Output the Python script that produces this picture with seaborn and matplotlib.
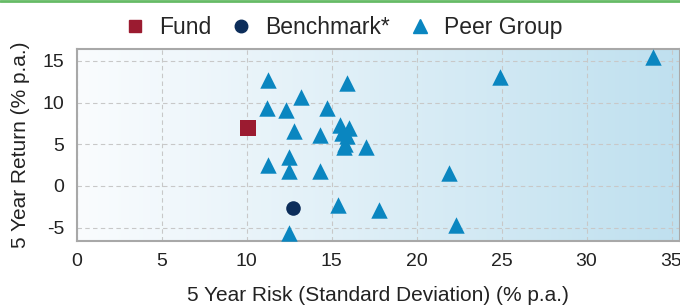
import numpy as np
import pandas as pd
import matplotlib
matplotlib.use("Agg")
import matplotlib.pyplot as plt
from matplotlib.colors import LinearSegmentedColormap
import seaborn as sns

# ---- data ----
fund_risk = [10.1]
fund_return = [7.0]
bench_risk = [12.7]
bench_return = [-2.6]
peer_risk = [11.25, 15.9, 13.2, 11.2, 12.3, 14.7, 12.8, 14.3,
             15.5, 16.0, 15.6, 15.9, 15.8, 15.7, 17.0,
             11.25, 12.5, 12.5, 14.3, 15.4, 17.8, 12.5,
             21.9, 22.3, 24.9, 33.9]
peer_return = [12.7, 12.3, 10.7, 9.3, 9.1, 9.3, 6.6, 6.1,
               7.3, 7.0, 6.4, 6.0, 5.0, 4.7, 4.7,
               2.5, 3.5, 1.8, 1.8, -2.3, -2.9, -5.7,
               1.6, -4.7, 13.0, 15.4]
series_names = ["Fund", "Benchmark*", "Peer Group"]
x_ticks = [0, 5, 10, 15, 20, 25, 30, 35]
y_ticks = [-5, 0, 5, 10, 15]

df = pd.DataFrame({
    "risk": fund_risk + bench_risk + peer_risk,
    "ret": fund_return + bench_return + peer_return,
    "Type": [series_names[0]] * len(fund_risk)
            + [series_names[1]] * len(bench_risk)
            + [series_names[2]] * len(peer_risk),
})

sns.set_theme(style="white")
plt.rcParams["font.family"] = ["Liberation Sans", "DejaVu Sans"]
plt.rcParams["axes.unicode_minus"] = False

fig = plt.figure(figsize=(6.8, 3.07), dpi=100)
ax = fig.add_axes([0.113, 0.215, 0.887, 0.625])

# gradient background
cmap = LinearSegmentedColormap.from_list("bg", ["#fafcfe", "#bfe0ef"])
grad = np.linspace(0, 1, 256).reshape(1, -1)
ax.imshow(grad, cmap=cmap, extent=[0, 1, 0, 1], transform=ax.transAxes,
          aspect="auto", zorder=0)

palette = {"Fund": "#9b1b30", "Benchmark*": "#0c2d5a", "Peer Group": "#0a86c0"}
markers = {"Fund": "s", "Benchmark*": "o", "Peer Group": "^"}
sizes = {"Fund": 120, "Benchmark*": 110, "Peer Group": 140}

for name in series_names:
    sub = df[df["Type"] == name]
    sns.scatterplot(data=sub, x="risk", y="ret", ax=ax, color=palette[name],
                    marker=markers[name], s=sizes[name], linewidth=0,
                    label=name, zorder=3, legend=False)

ax.set_xlim(0, 35.5)
ax.set_ylim(-6.6, 16.4)
ax.set_xticks(x_ticks)
ax.set_yticks(y_ticks)
ax.grid(True, linestyle=(0, (4, 3)), color="#c8c8c8", linewidth=0.8, zorder=1)
ax.set_axisbelow(True)
for side in ["left", "bottom", "top", "right"]:
    ax.spines[side].set_color("#a8a8a8")
    ax.spines[side].set_linewidth(1.5)
ax.tick_params(axis="both", labelsize=14, colors="#222222", length=0, pad=9)
ax.set_xlabel("5 Year Risk (Standard Deviation) (% p.a.)", fontsize=15,
              color="#222222", labelpad=11)
ax.set_ylabel("5 Year Return (% p.a.)", fontsize=15, color="#222222", labelpad=9)

handles = [
    plt.Line2D([], [], linestyle="none", marker="s", color=palette["Fund"], markersize=9),
    plt.Line2D([], [], linestyle="none", marker="o", color=palette["Benchmark*"], markersize=9),
    plt.Line2D([], [], linestyle="none", marker="^", color=palette["Peer Group"], markersize=10),
]
fig.legend(handles, series_names, loc="center", bbox_to_anchor=(0.503, 0.91),
           ncol=3, frameon=False, prop={"size": 16.5},
           handletextpad=0.45, columnspacing=0.7, handlelength=1.2)

# top green line
fig.add_artist(plt.Line2D([0, 1], [0.997, 0.997], transform=fig.transFigure,
                          color="#66bb66", linewidth=2))

fig.savefig("out.png", dpi=100)
